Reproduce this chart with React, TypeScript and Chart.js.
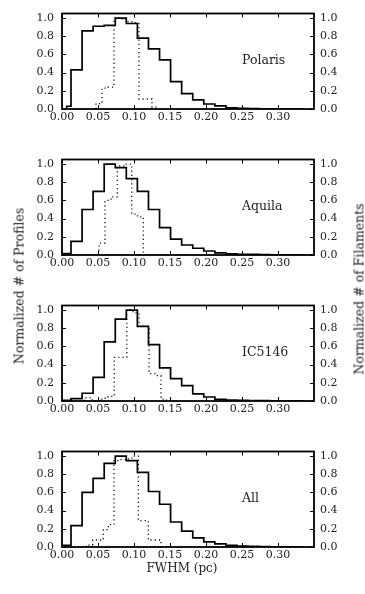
import React, { useEffect, useRef } from 'react';
import { Chart, registerables } from 'chart.js';

Chart.register(...registerables);

// ---- axis ticks & labels ----
const xTickValues = [0, 0.05, 0.1, 0.15, 0.2, 0.25, 0.3];
const yTickValues = [0, 0.2, 0.4, 0.6, 0.8, 1.0];
const regionNames = ['Polaris', 'Aquila', 'IC5146', 'All'];
const xAxisTitle = 'FWHM (pc)';
const leftAxisTitle = 'Normalized # of Profiles';
const rightAxisTitle = 'Normalized # of Filaments';

// ---- profile histograms (solid) ----
const polarisProfileEdges = [0.0065, 0.0125, 0.0279, 0.0432, 0.0586, 0.074, 0.0893, 0.1047, 0.1201, 0.1355, 0.1508, 0.1662, 0.1816, 0.1969, 0.2123, 0.2277, 0.2431, 0.2584, 0.2738, 0.2892, 0.3045, 0.3199, 0.3353];
const commonProfileEdges = [0, 0.0125, 0.0279, 0.0432, 0.0586, 0.074, 0.0893, 0.1047, 0.1201, 0.1355, 0.1508, 0.1662, 0.1816, 0.1969, 0.2123, 0.2277, 0.2431, 0.2584, 0.2738, 0.2892, 0.3045, 0.3199, 0.3353];
const polarisProfiles = [0.03, 0.43, 0.86, 0.91, 0.92, 1.0, 0.94, 0.78, 0.66, 0.54, 0.30, 0.17, 0.10, 0.055, 0.035, 0.012, 0.006, 0.004, 0, 0, 0, 0];
const aquilaProfiles = [0.015, 0.15, 0.50, 0.70, 1.0, 0.96, 0.84, 0.70, 0.50, 0.30, 0.175, 0.11, 0.074, 0.044, 0.023, 0.013, 0.008, 0.006, 0.004, 0.003, 0.002, 0.002];
const ic5146Profiles = [0.007, 0.027, 0.085, 0.26, 0.65, 0.90, 1.0, 0.82, 0.62, 0.365, 0.245, 0.17, 0.078, 0.044, 0.017, 0.01, 0.007, 0.005, 0.004, 0.003, 0.003, 0.002];
const allProfiles = [0.017, 0.235, 0.60, 0.755, 0.92, 1.0, 0.95, 0.82, 0.61, 0.47, 0.275, 0.175, 0.10, 0.057, 0.034, 0.017, 0.01, 0.007, 0.004, 0.002, 0.001, 0];

// ---- filament histograms (dotted) ----
const polarisFilamentEdges = [0.0472, 0.0556, 0.0639, 0.0722, 0.0806, 0.0889, 0.0972, 0.1069, 0.1153, 0.125, 0.1319];
const polarisFilaments = [0.06, 0.23, 0.24, 1.0, 0.99, 0.96, 0.95, 0.11, 0.11, 0.02];
const aquilaFilamentEdges = [0.0514, 0.0597, 0.0681, 0.0768, 0.0868, 0.0968, 0.1049, 0.1129];
const aquilaFilaments = [0.13, 0.60, 0.64, 0.98, 1.0, 0.45, 0.42];
const ic5146FilamentEdges = [0.031, 0.042, 0.0555, 0.064, 0.0725, 0.081, 0.090, 0.0985, 0.107, 0.114, 0.121, 0.129, 0.1375, 0.145];
const ic5146Filaments = [0.035, 0, 0.03, 0.05, 0.48, 0.48, 1.0, 0.97, 0.82, 0.82, 0.30, 0.28, 0.02];
const allFilamentEdges = [0.0333, 0.0426, 0.05, 0.0574, 0.0643, 0.0722, 0.0806, 0.0889, 0.0972, 0.106, 0.1129, 0.1199, 0.1278, 0.1375];
const allFilaments = [0.02, 0.077, 0.077, 0.19, 0.245, 0.95, 0.96, 0.97, 1.0, 0.29, 0.29, 0.077, 0.077];

const panels = [
  { name: regionNames[0], top: 6, pEdges: polarisProfileEdges, pVals: polarisProfiles, fEdges: polarisFilamentEdges, fVals: polarisFilaments },
  { name: regionNames[1], top: 152, pEdges: commonProfileEdges, pVals: aquilaProfiles, fEdges: aquilaFilamentEdges, fVals: aquilaFilaments },
  { name: regionNames[2], top: 298, pEdges: commonProfileEdges, pVals: ic5146Profiles, fEdges: ic5146FilamentEdges, fVals: ic5146Filaments },
  { name: regionNames[3], top: 444, pEdges: commonProfileEdges, pVals: allProfiles, fEdges: allFilamentEdges, fVals: allFilaments },
];

const FONT = '"DejaVu Serif", serif';
const TEXT = '#222';

function stepPoints(edges: number[], values: number[]) {
  const pts = [{ x: edges[0], y: 0 }];
  values.forEach((v, i) => pts.push({ x: edges[i], y: v }));
  pts.push({ x: edges[values.length], y: 0 });
  return pts;
}

function framePlugin(name: string) {
  return {
    id: 'frame',
    afterDatasetsDraw(chart: any) {
      const { ctx, chartArea: a, scales } = chart;
      const xs = scales.x;
      const ys = scales.y;
      ctx.save();
      ctx.strokeStyle = '#000';
      ctx.lineWidth = 1;
      ctx.beginPath();
      xTickValues.forEach((v) => {
        const px = Math.round(xs.getPixelForValue(v)) + 0.5;
        ctx.moveTo(px, a.bottom);
        ctx.lineTo(px, a.bottom - 4);
        ctx.moveTo(px, a.top);
        ctx.lineTo(px, a.top + 4);
      });
      yTickValues.forEach((v) => {
        const py = Math.round(ys.getPixelForValue(v)) + 0.5;
        ctx.moveTo(a.left, py);
        ctx.lineTo(a.left + 4, py);
        ctx.moveTo(a.right, py);
        ctx.lineTo(a.right - 4, py);
      });
      ctx.stroke();
      ctx.lineWidth = 1.8;
      ctx.strokeRect(a.left, a.top, a.right - a.left, a.bottom - a.top);
      ctx.fillStyle = TEXT;
      ctx.font = `12.5px ${FONT}`;
      ctx.textBaseline = 'middle';
      ctx.textAlign = 'left';
      ctx.fillText(name, xs.getPixelForValue(0.25), ys.getPixelForValue(0.535));
      ctx.restore();
    },
  };
}

function Panel(props: any) {
  const { name, top, pEdges, pVals, fEdges, fVals } = props;
  const ref = useRef<HTMLCanvasElement>(null);
  useEffect(() => {
    if (!ref.current) return;
    const tickFont = { family: FONT, size: 11, lineHeight: 1 };
    const yCommon = {
      type: 'linear',
      min: 0,
      max: 1.05,
      grid: { display: false, drawTicks: false },
      border: { display: false },
      afterBuildTicks: (s: any) => {
        s.ticks = yTickValues.map((v) => ({ value: v }));
      },
    };
    const chart = new Chart(ref.current, {
      type: 'line',
      data: {
        datasets: [
          {
            data: stepPoints(pEdges, pVals),
            borderColor: '#000',
            borderWidth: 1.7,
            stepped: 'before',
            pointRadius: 0,
            fill: false,
            order: 0,
          },
          {
            data: stepPoints(fEdges, fVals),
            borderColor: '#111',
            borderWidth: 1.3,
            borderDash: [1.2, 3],
            stepped: 'before',
            pointRadius: 0,
            fill: false,
            order: 1,
          },
        ],
      },
      options: {
        responsive: false,
        animation: false,
        events: [],
        layout: { padding: { top: 6, left: 0, right: 0, bottom: 0 } },
        plugins: {
          legend: { display: false },
          tooltip: { enabled: false },
          title: { display: false },
        },
        scales: {
          x: {
            type: 'linear',
            position: 'bottom',
            min: 0,
            max: 0.35,
            grid: { display: false, drawTicks: false },
            border: { display: false },
            ticks: {
              font: tickFont,
              color: TEXT,
              padding: 3,
              maxRotation: 0,
              autoSkip: false,
              callback: (v: any) => Number(v).toFixed(2),
            },
            afterBuildTicks: (s: any) => {
              s.ticks = xTickValues.map((v) => ({ value: v }));
            },
            afterFit: (s: any) => {
              s.height = 24;
            },
          },
          y: {
            ...yCommon,
            position: 'left',
            ticks: { font: tickFont, color: TEXT, padding: 8, callback: (v: any) => Number(v).toFixed(1) },
            afterFit: (s: any) => {
              s.width = 62;
            },
          },
          y2: {
            ...yCommon,
            position: 'right',
            display: true,
            ticks: { font: tickFont, color: TEXT, padding: 6, callback: (v: any) => Number(v).toFixed(1) },
            afterFit: (s: any) => {
              s.width = 51;
            },
          },
        },
      } as any,
      plugins: [framePlugin(name)],
    } as any);
    return () => chart.destroy();
  }, []);
  return (
    <canvas
      ref={ref}
      width={365}
      height={133}
      style={{ position: 'absolute', left: 0, top: top - 6, width: 365, height: 133 }}
    />
  );
}

export default function App() {
  return (
    <div style={{ position: 'fixed', left: 0, top: 0, width: 365, height: 594, background: '#fff', overflow: 'hidden' }}>
      {panels.map((p) => (
        <Panel key={p.name} {...p} />
      ))}
      <div
        style={{
          position: 'absolute',
          left: 19,
          top: 286,
          transform: 'translate(-50%, -50%) rotate(-90deg)',
          whiteSpace: 'nowrap',
          font: `12.5px ${FONT}`,
          color: TEXT,
        }}
      >
        {leftAxisTitle}
      </div>
      <div
        style={{
          position: 'absolute',
          left: 359,
          top: 289,
          transform: 'translate(-50%, -50%)rotate(-90deg)',
          whiteSpace: 'nowrap',
          font: `12.5px ${FONT}`,
          color: TEXT,
        }}
      >
        {rightAxisTitle}
      </div>
      <div
        style={{
          position: 'absolute',
          left: 182,
          top: 568,
          transform: 'translate(-50%, -50%)',
          whiteSpace: 'nowrap',
          font: `12px ${FONT}`,
          color: TEXT,
        }}
      >
        {xAxisTitle}
      </div>
    </div>
  );
}
